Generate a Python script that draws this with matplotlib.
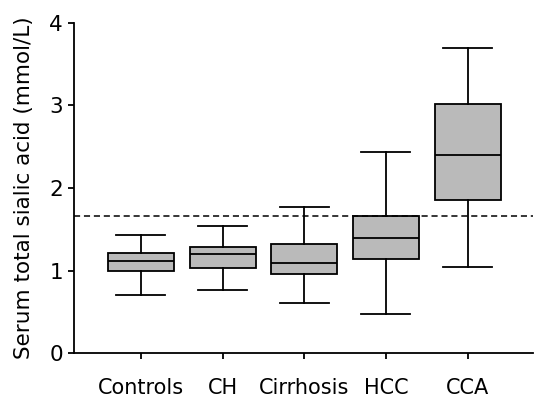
import matplotlib.pyplot as plt

groups = ["Controls", "CH", "Cirrhosis", "HCC", "CCA"]
whislo = [0.70, 0.77, 0.61, 0.47, 1.04]
q1 = [0.99, 1.03, 0.96, 1.14, 1.86]
med = [1.12, 1.20, 1.09, 1.40, 2.40]
q3 = [1.21, 1.28, 1.32, 1.665, 3.02]
whishi = [1.435, 1.545, 1.77, 2.43, 3.69]
cutoff = 1.66

stats = []
for i, g in enumerate(groups):
    stats.append(dict(label=g, whislo=whislo[i], q1=q1[i], med=med[i],
                      q3=q3[i], whishi=whishi[i], fliers=[]))

fig = plt.figure(figsize=(5.55, 4.12), dpi=100)
ax = fig.add_axes([0.1333, 0.1425, 0.827, 0.8025])

ax.bxp(stats, positions=range(1, 6), widths=0.81, patch_artist=True,
       showfliers=False,
       boxprops=dict(facecolor="#bababa", edgecolor="black", linewidth=1.3),
       medianprops=dict(color="black", linewidth=1.3),
       whiskerprops=dict(color="black", linewidth=1.3),
       capprops=dict(color="black", linewidth=1.3),
       capwidths=0.6)

ax.axhline(cutoff, color="black", linestyle=(0, (4, 2.5)), linewidth=1.1)

ax.set_xlim(0.18, 5.8)
ax.set_ylim(0, 4)
ax.set_yticks([0, 1, 2, 3, 4])
ax.set_ylabel("Serum total sialic acid (mmol/L)", fontsize=15.5)
ax.yaxis.set_label_coords(-0.087, 0.5)
ax.spines["top"].set_visible(False)
ax.spines["right"].set_visible(False)
for s in ["left", "bottom"]:
    ax.spines[s].set_linewidth(1.3)
ax.tick_params(axis="y", labelsize=15.5, width=1.3, length=4, pad=4)
ax.tick_params(axis="x", labelsize=15, width=1.3, length=4, pad=14)

fig.savefig("out.png", dpi=100)
